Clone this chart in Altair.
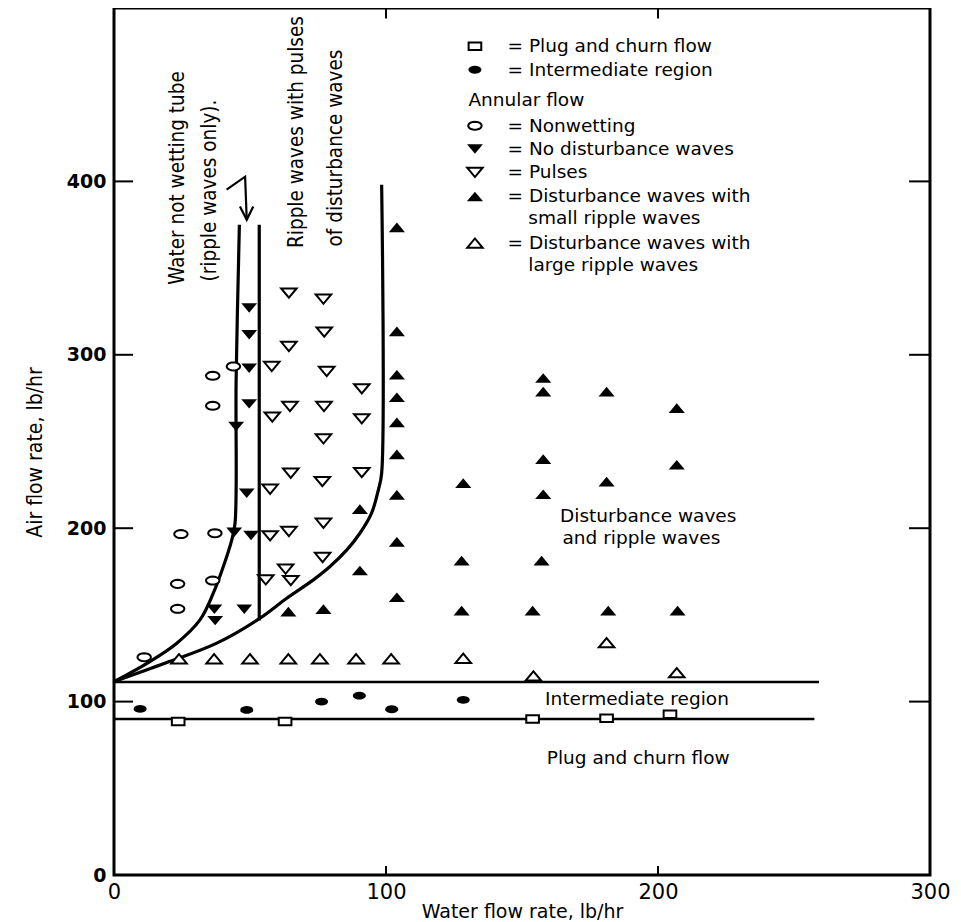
import math
import altair as alt
import pandas as pd

# ---------------- data ----------------
plug_x = [23.6, 62.9, 153.9, 181.1, 204.4]
plug_y = [88.5, 88.5, 90.0, 90.4, 92.7]

inter_x = [9.6, 48.8, 76.3, 90.2, 102.1, 128.4]
inter_y = [95.8, 95.2, 100.0, 103.4, 95.6, 101.0]

nonwet_x = [36.3, 43.9, 36.3, 24.6, 37.1, 23.4, 36.3, 23.4, 11.1]
nonwet_y = [287.9, 293.3, 270.6, 196.6, 197.1, 167.9, 169.8, 153.5, 125.6]

nodist_x = [49.7, 49.7, 49.7, 49.7, 44.9, 48.8, 44.2, 50.4, 36.9, 47.9, 37.2]
nodist_y = [327.0, 311.5, 292.3, 271.7, 258.6, 220.2, 197.7, 195.8, 153.3, 153.3, 146.7]

pulses_x = [64.3, 77.0, 77.3, 64.3, 58.0, 78.2, 91.1, 64.7, 77.2, 58.2, 91.1, 77.0,
            65.0, 76.6, 91.1, 57.4, 77.0, 64.3, 57.4, 76.7, 63.1, 65.0, 55.8]
pulses_y = [335.6, 332.1, 313.1, 304.8, 293.3, 290.4, 280.4, 270.2, 270.2, 264.1, 263.1, 251.5,
            231.7, 226.9, 232.1, 222.5, 202.9, 198.1, 195.6, 183.1, 176.4, 169.8, 170.2]

small_x = [104.0, 104.0, 104.0, 104.0, 104.0, 104.0, 104.0, 104.0, 104.0,
           90.4, 90.4, 64.1, 77.0, 128.4, 157.8, 157.8, 181.1, 206.9, 157.8,
           181.1, 206.9, 157.8, 127.8, 157.2, 127.8, 153.9, 181.7, 207.2]
small_y = [373.5, 313.5, 288.5, 275.5, 261.0, 242.6, 219.2, 192.1, 160.2,
           211.0, 175.6, 151.9, 153.3, 226.0, 286.6, 278.8, 278.8, 269.2, 239.8,
           226.9, 236.6, 219.6, 181.3, 181.3, 152.5, 152.5, 152.5, 152.5]

large_x = [23.9, 36.8, 50.0, 64.1, 75.7, 89.0, 101.9, 128.4, 181.1, 154.2, 206.9]
large_y = [124.7, 124.7, 124.7, 124.7, 124.7, 124.7, 124.7, 125.0, 134.0, 114.8, 116.7]

# boundary curves
left_curve_x = [0, 13.2, 23.1, 31.6, 36.5, 40.2, 43.3, 44.5, 44.9, 46.1]
left_curve_y = [111.5, 123.1, 133.7, 147.1, 162.5, 177.9, 193.3, 202.9, 285.6, 375.0]
right_curve_x = [0, 19.4, 37.8, 53.7, 63.5, 73.3, 79.4, 85.6, 90.4, 94.7, 97.2, 98.4, 98.4]
right_curve_y = [111.5, 122.5, 133.7, 148.1, 159.6, 170.2, 177.9, 187.5, 197.1, 208.7, 222.1, 231.7, 398.1]
middle_x = [53.4, 53.4]
middle_y = [375.0, 146.7]
upper_x = [0, 259.2]
upper_y = [111.3, 111.3]
lower_x = [0, 257.5]
lower_y = [90.0, 90.0]
arrow_x = [41.4, 48.2, 48.8]
arrow_y = [395.2, 402.7, 377.9]
head_x = [46.3, 48.8, 51.2]
head_y = [385.5, 377.9, 385.5]

# legend (symbol column and text)
legend_sym_x = 132.7
legend_kinds = ["plug", "inter", "nonwet", "nodist", "pulses", "small", "large"]
legend_sym_y = [477.9, 464.4, 432.1, 418.7, 405.2, 391.3, 364.4]
legend_texts = ["= Plug and churn flow", "= Intermediate region", "Annular flow",
                "= Nonwetting", "= No disturbance waves", "= Pulses",
                "= Disturbance waves with", "small ripple waves",
                "= Disturbance waves with", "large ripple waves"]
legend_text_x = [144.7, 144.7, 130.3, 144.7, 144.7, 144.7, 144.7, 152.3, 144.7, 152.3]
legend_text_y = [477.9, 464.4, 447.1, 432.1, 418.7, 405.2, 391.3, 378.9, 364.4, 351.5]

# region labels
region_texts = ["Disturbance waves", "and ripple waves", "Intermediate region", "Plug and churn flow"]
region_x = [164.0, 164.9, 158.5, 159.1]
region_y = [207.2, 194.6, 101.5, 67.3]

# rotated labels
rot_texts = ["Water not wetting tube", "(ripple waves only).",
             "Ripple waves with pulses", "of disturbance waves"]
rot_x = [25.7, 37.5, 69.5, 83.8]
rot_y = [340.4, 342.3, 361.6, 362.5]

# inward tick marks
tick_x = [0, 0, 0, 0, 300, 300, 300, 300, 100, 200, 100, 200]
tick_x2 = [7, 7, 7, 7, 292.3, 292.3, 292.3, 292.3, 100, 200, 100, 200]
tick_y = [100, 200, 300, 400, 100, 200, 300, 400, 0, 0, 500, 500]
tick_y2 = [100, 200, 300, 400, 100, 200, 300, 400, 5.2, 5.2, 494, 494]

# ---------------- styling ----------------
NARROW = "Liberation Sans Narrow, DejaVu Sans Condensed, Liberation Sans"
WIDE = "DejaVu Sans"


def ellipse_path(ry=0.6, n=20):
    pts = [(math.cos(2 * math.pi * k / n), ry * math.sin(2 * math.pi * k / n)) for k in range(n)]
    return "M" + "L".join(f"{a:.3f},{b:.3f}" for a, b in pts) + "Z"


SQUARE = "M-1,-0.6L1,-0.6L1,0.6L-1,0.6Z"
TRI_UP = "M-1,0.6L1,0.6L0,-0.6Z"
TRI_DOWN = "M-1,-0.6L1,-0.6L0,0.6Z"
ELLIPSE = ellipse_path(0.6)

X = alt.X("x:Q", scale=alt.Scale(domain=[0, 300], nice=False, zero=False),
          axis=alt.Axis(values=[0, 100, 200, 300], title="Water flow rate, lb/hr", grid=False,
                        ticks=False, domain=False, labelFont=WIDE, labelFontSize=21,
                        labelPadding=6, labelColor="black", labelFlush=False, labelOverlap=False,
                        titleFont=WIDE, titleFontSize=19, titleFontWeight="normal",
                        titleColor="black", titleY=36, titleBaseline="middle"))
Y = alt.Y("y:Q", scale=alt.Scale(domain=[0, 500], nice=False, zero=False),
          axis=alt.Axis(values=[0, 100, 200, 300, 400], title="Air flow rate, lb/hr", grid=False,
                        ticks=False, domain=False, labelFont=WIDE, labelFontSize=19,
                        labelFontWeight="bold", labelPadding=8, labelColor="black",
                        labelFlush=False, labelOverlap=False,
                        titleFont=NARROW, titleFontSize=21, titleFontWeight="normal",
                        titleColor="black", titleX=-79, titleY=444, titleAngle=270,
                        titleAlign="center", titleBaseline="middle"))

series = {
    "plug": (plug_x, plug_y, SQUARE, False, 160),
    "inter": (inter_x, inter_y, ELLIPSE, True, 170),
    "nonwet": (nonwet_x, nonwet_y, ELLIPSE, False, 180),
    "nodist": (nodist_x, nodist_y, TRI_DOWN, True, 250),
    "pulses": (pulses_x, pulses_y, TRI_DOWN, False, 240),
    "small": (small_x, small_y, TRI_UP, True, 260),
    "large": (large_x, large_y, TRI_UP, False, 240),
}

layers = []

# boundary lines
curve_rows = []
for name, xs, ys in [("left", left_curve_x, left_curve_y), ("right", right_curve_x, right_curve_y)]:
    for i, (a, b) in enumerate(zip(xs, ys)):
        curve_rows.append({"x": a, "y": b, "seg": name, "o": i})
curves = alt.Chart(pd.DataFrame(curve_rows)).mark_line(
    color="black", strokeWidth=3.2, interpolate="catmull-rom").encode(
    x=X, y=Y, detail="seg:N", order="o:Q")
layers.append(curves)

line_rows = []
for name, xs, ys, w in [("mid", middle_x, middle_y, 3.2), ("up", upper_x, upper_y, 2.6),
                        ("low", lower_x, lower_y, 2.6), ("arrow", arrow_x, arrow_y, 2.2),
                        ("head", head_x, head_y, 2.2)]:
    for i, (a, b) in enumerate(zip(xs, ys)):
        line_rows.append({"x": a, "y": b, "seg": name, "o": i, "w": w})
lines = alt.Chart(pd.DataFrame(line_rows)).mark_line(color="black").encode(
    x=X, y=Y, detail="seg:N", order="o:Q",
    strokeWidth=alt.StrokeWidth("w:Q", scale=None, legend=None))
layers.append(lines)

# ticks
ticks = alt.Chart(pd.DataFrame({"x": tick_x, "x2": tick_x2, "y": tick_y, "y2": tick_y2})).mark_rule(
    color="black", strokeWidth=2).encode(x=X, x2="x2:Q", y=Y, y2="y2:Q")
layers.append(ticks)

# data points + legend symbols
for kind, (xs, ys, shape, filled, size) in series.items():
    ly = legend_sym_y[legend_kinds.index(kind)]
    df = pd.DataFrame({"x": list(xs) + [legend_sym_x], "y": list(ys) + [ly]})
    if filled:
        mk = alt.Chart(df).mark_point(shape=shape, filled=True, size=size, color="black",
                                      opacity=1, strokeWidth=0)
    else:
        mk = alt.Chart(df).mark_point(shape=shape, filled=False, size=size, color="black",
                                      opacity=1, strokeWidth=2, fill="white", fillOpacity=1)
    layers.append(mk.encode(x=X, y=Y))

# legend and region text
txt_df = pd.DataFrame({"x": legend_text_x + region_x, "y": legend_text_y + region_y,
                       "t": legend_texts + region_texts})
texts = alt.Chart(txt_df).mark_text(align="left", baseline="middle", font=WIDE, fontSize=18.5,
                                    color="black").encode(x=X, y=Y, text="t:N")
layers.append(texts)

rot_df = pd.DataFrame({"x": rot_x, "y": rot_y, "t": rot_texts})
rot = alt.Chart(rot_df).mark_text(align="left", baseline="alphabetic", angle=270, font=NARROW,
                                  fontSize=20.5, color="black").encode(x=X, y=Y, text="t:N")
layers.append(rot)

chart = alt.layer(*layers).properties(
    width=816, height=867,
    autosize=alt.AutoSizeParams(type="none"),
    padding={"left": 106, "top": 0, "right": 23, "bottom": 47},
    background="white",
).configure_view(stroke="black", strokeWidth=3)

chart.save("out.html", embed_options={"renderer": "svg", "actions": False})
